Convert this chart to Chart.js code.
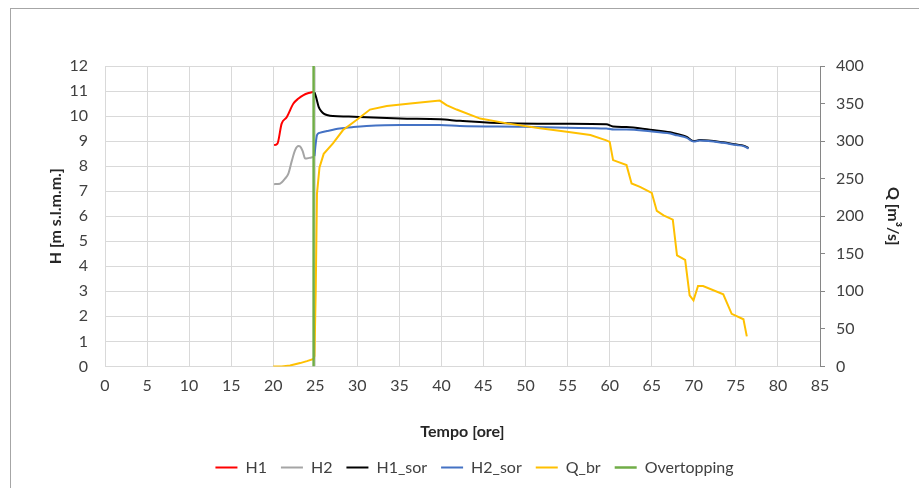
<!DOCTYPE html>
<html>
<head>
<meta charset="utf-8">
<script src="https://cdn.jsdelivr.net/npm/chart.js@4.4.1/dist/chart.umd.min.js"></script>
<style>
  html, body { margin: 0; padding: 0; background: #ffffff; }
  #wrap { position: relative; width: 919px; height: 488px; overflow: hidden; }
  #frame { position: absolute; left: 10px; top: 8px; width: 2000px; height: 2000px; border: 1px solid #a6a6a6; box-sizing: border-box; pointer-events: none; }
  canvas { position: absolute; left: 0; top: 0; }
</style>
</head>
<body>
<div id="wrap">
  <canvas id="c" width="919" height="488"></canvas>
  <div id="frame"></div>
</div>
<script>
// ---- Data ----
const xTicks = [0,5,10,15,20,25,30,35,40,45,50,55,60,65,70,75,80,85];
const hTicks = [0,1,2,3,4,5,6,7,8,9,10,11,12];
const qTicks = [0,50,100,150,200,250,300,350,400];

const H1_t = [20.1, 20.5, 21.0, 21.6, 22.4, 23.0, 23.6, 24.2, 24.8];
const H1_v = [8.84, 8.9, 9.7, 9.95, 10.5, 10.7, 10.84, 10.92, 10.97];

const H2_t = [20.1, 20.8, 21.4, 21.8, 22.2, 22.6, 23.0, 23.2, 23.5, 23.8, 24.3, 24.8];
const H2_v = [7.28, 7.3, 7.5, 7.7, 8.2, 8.64, 8.8, 8.78, 8.6, 8.3, 8.33, 8.37];

const H1sor_t = [24.9, 25.1, 25.4, 25.7, 26.0, 26.5, 27.1, 29.0, 31.1, 35.1, 39.8, 42.2, 47.8, 55.0, 59.6, 60.4, 62.0, 64.8, 67.2, 68.0, 69.1, 70.0, 70.7, 73.5, 75.1, 75.9, 76.5];
const H1sor_v = [10.95, 10.75, 10.37, 10.2, 10.1, 10.03, 10.0, 9.98, 9.95, 9.9, 9.87, 9.81, 9.71, 9.69, 9.67, 9.58, 9.56, 9.45, 9.35, 9.28, 9.18, 9.0, 9.04, 8.95, 8.86, 8.82, 8.72];

const H2sor_t = [24.9, 25.05, 25.2, 25.5, 26.4, 27.9, 29.5, 31.1, 35.1, 39.8, 42.2, 49.7, 55.0, 59.6, 60.5, 62.0, 64.8, 67.2, 68.0, 69.1, 70.0, 70.7, 73.5, 75.1, 75.9, 76.5];
const H2sor_v = [8.4, 8.9, 9.24, 9.33, 9.4, 9.5, 9.56, 9.6, 9.64, 9.64, 9.6, 9.57, 9.53, 9.5, 9.46, 9.46, 9.39, 9.3, 9.23, 9.14, 8.98, 9.02, 8.93, 8.84, 8.8, 8.7];

const Qbr_t = [20, 21, 22, 23.2, 24, 24.8, 24.9, 25.05, 25.2, 25.5, 26, 27.1, 28.3, 29.9, 31.5, 33.5, 36.3, 39.8, 40.6, 41.8, 44.6, 47.8, 51.7, 54.9, 57.7, 59.6, 60.0, 60.4, 62.0, 62.6, 63.6, 65.0, 65.6, 66.4, 67.5, 68.0, 68.97, 69.5, 69.96, 70.5, 71.1, 73.5, 74.5, 75.9, 76.3];
const Qbr_v = [0, 0, 1.3, 4.4, 7, 10, 14, 100, 230, 265, 283, 297, 314.7, 328, 342, 346.7, 350, 354, 348, 342, 330, 323.6, 317, 312.4, 308, 301, 299, 274.7, 268, 243.6, 239, 231, 207, 201, 195.5, 148, 142, 94.7, 88, 107, 107, 96, 70, 62.7, 40];

const Over_t = [24.8, 24.8];
const Over_v = [0, 12];

function pts(t, v) { return t.map((x, i) => ({ x: x, y: v[i] })); }

const FONT = 'Lato, "Open Sans", sans-serif';
const TXT = '#404040';
const GRID = '#d9d9d9';

function ds(label, t, v, color, axis, order, width, smooth) {
  return {
    label: label,
    data: pts(t, v),
    borderColor: color,
    backgroundColor: color,
    borderWidth: width || 2,
    pointRadius: 0,
    pointHoverRadius: 0,
    fill: false,
    yAxisID: axis,
    order: order,
    cubicInterpolationMode: smooth ? 'monotone' : 'default',
    tension: 0
  };
}

const datasets = [
  ds('H1', H1_t, H1_v, '#ff0000', 'y', 6, 2, true),
  ds('H2', H2_t, H2_v, '#a5a5a5', 'y', 5, 2, true),
  ds('H1_sor', H1sor_t, H1sor_v, '#000000', 'y', 4, 2, true),
  ds('H2_sor', H2sor_t, H2sor_v, '#4472c4', 'y', 3, 2, true),
  ds('Q_br', Qbr_t, Qbr_v, '#ffc000', 'y1', 2, 2, false),
  ds('Overtopping', Over_t, Over_v, '#70ad47', 'y', 1, 2.5, false)
];

new Chart(document.getElementById('c'), {
  type: 'line',
  data: { datasets: datasets },
  options: {
    responsive: false,
    animation: false,
    events: [],
    layout: { padding: { left: 42, right: 12, top: 66, bottom: 2.6 } },
    plugins: {
      tooltip: { enabled: false },
      legend: {
        position: 'bottom',
        labels: {
          usePointStyle: true,
          pointStyle: 'line',
          pointStyleWidth: 22,
          boxHeight: 14,
          padding: 14,
          color: TXT,
          font: { family: FONT, size: 16 },
          sort: (a, b) => a.datasetIndex - b.datasetIndex
        }
      }
    },
    scales: {
      x: {
        type: 'linear',
        min: 0, max: 85,
        afterBuildTicks: (s) => { s.ticks = xTicks.map(v => ({ value: v })); },
        ticks: { color: TXT, font: { family: FONT, size: 16 }, padding: 10, maxRotation: 0, autoSkip: false },
        grid: { color: GRID, drawTicks: false, lineWidth: 1 },
        border: { color: GRID },
        title: { display: true, text: 'Tempo [ore]', color: '#262626', font: { family: FONT, size: 16, weight: 'bold' }, padding: { top: 14.4, bottom: 4 } },
        afterFit: (s) => { s.height = 79; }
      },
      y: {
        type: 'linear',
        position: 'left',
        min: 0, max: 12,
        afterBuildTicks: (s) => { s.ticks = hTicks.map(v => ({ value: v })); },
        ticks: { color: TXT, font: { family: FONT, size: 16 }, padding: 17 },
        grid: { color: GRID, drawTicks: false },
        border: { color: GRID },
        title: { display: true, text: 'H [m s.l.m.m.]', color: '#262626', font: { family: FONT, size: 16, weight: 'bold' }, padding: { top: 4, bottom: 4 } },
        afterFit: (s) => { s.width = 63; }
      },
      y1: {
        type: 'linear',
        position: 'right',
        min: 0, max: 400,
        afterBuildTicks: (s) => { s.ticks = qTicks.map(v => ({ value: v })); },
        ticks: { color: TXT, font: { family: FONT, size: 16 }, padding: 11 },
        grid: { drawOnChartArea: false, drawTicks: true, tickLength: 5, color: '#868686' },
        border: { color: '#868686' },
        title: { display: true, text: 'Q [m³/s]', color: '#262626', font: { family: FONT, size: 16, weight: 'bold' }, padding: { top: 4, bottom: 4 } },
        afterFit: (s) => { s.width = 87; }
      }
    }
  }
});
</script>
</body>
</html>
